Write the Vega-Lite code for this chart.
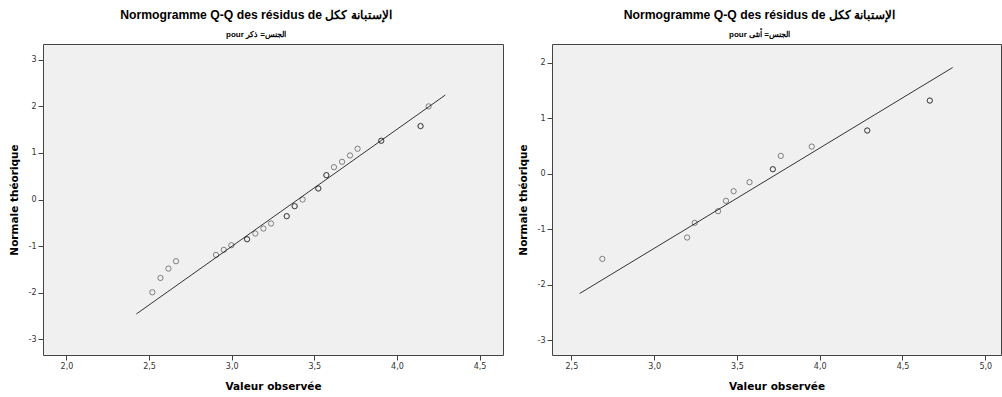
{
  "$schema": "https://vega.github.io/schema/vega-lite/v6.json",
  "background": "white",
  "padding": {"left": 8, "top": 8, "right": 0, "bottom": 0},
  "spacing": 13,
  "datasets": {
    "homme": [
      {"obs": 2.520, "theo": -1.993},
      {"obs": 2.569, "theo": -1.685},
      {"obs": 2.617, "theo": -1.484},
      {"obs": 2.663, "theo": -1.326},
      {"obs": 2.905, "theo": -1.190},
      {"obs": 2.952, "theo": -1.082},
      {"obs": 2.998, "theo": -0.982},
      {"obs": 3.093, "theo": -0.853},
      {"obs": 3.093, "theo": -0.853},
      {"obs": 3.143, "theo": -0.731},
      {"obs": 3.192, "theo": -0.624},
      {"obs": 3.238, "theo": -0.516},
      {"obs": 3.333, "theo": -0.358},
      {"obs": 3.333, "theo": -0.358},
      {"obs": 3.381, "theo": -0.143},
      {"obs": 3.381, "theo": -0.143},
      {"obs": 3.429, "theo": 0.000},
      {"obs": 3.524, "theo": 0.237},
      {"obs": 3.524, "theo": 0.237},
      {"obs": 3.573, "theo": 0.523},
      {"obs": 3.573, "theo": 0.523},
      {"obs": 3.619, "theo": 0.695},
      {"obs": 3.668, "theo": 0.810},
      {"obs": 3.716, "theo": 0.946},
      {"obs": 3.762, "theo": 1.090},
      {"obs": 3.905, "theo": 1.262},
      {"obs": 3.905, "theo": 1.262},
      {"obs": 4.143, "theo": 1.577},
      {"obs": 4.143, "theo": 1.577},
      {"obs": 4.192, "theo": 2.000}
    ],
    "homme_ligne": [
      {"obs": 2.423, "theo": -2.459},
      {"obs": 4.293, "theo": 2.244}
    ],
    "femme": [
      {"obs": 2.687, "theo": -1.538},
      {"obs": 3.199, "theo": -1.153},
      {"obs": 3.245, "theo": -0.889},
      {"obs": 3.386, "theo": -0.679},
      {"obs": 3.434, "theo": -0.492},
      {"obs": 3.480, "theo": -0.318},
      {"obs": 3.576, "theo": -0.156},
      {"obs": 3.717, "theo": 0.078},
      {"obs": 3.717, "theo": 0.078},
      {"obs": 3.765, "theo": 0.318},
      {"obs": 3.952, "theo": 0.486},
      {"obs": 4.287, "theo": 0.775},
      {"obs": 4.287, "theo": 0.775},
      {"obs": 4.665, "theo": 1.315},
      {"obs": 4.665, "theo": 1.315}
    ],
    "femme_ligne": [
      {"obs": 2.550, "theo": -2.162},
      {"obs": 4.803, "theo": 1.910}
    ]
  },
  "config": {
    "view": {"fill": "#F0F0F0", "stroke": "#444444", "strokeWidth": 1},
    "axis": {
      "grid": false,
      "domain": false,
      "tickColor": "#444444",
      "tickSize": 5,
      "labelFont": "DejaVu Sans",
      "labelFontSize": 8,
      "labelColor": "#333333",
      "labelPadding": 2,
      "titleFont": "DejaVu Sans",
      "titleFontSize": 10.5,
      "titleFontWeight": "bold",
      "titleColor": "#000000"
    },
    "title": {
      "font": "Liberation Sans",
      "fontSize": 12.2,
      "fontWeight": "bold",
      "color": "#000000",
      "subtitleFont": "Liberation Sans",
      "subtitleFontSize": 8,
      "subtitleFontWeight": "bold",
      "subtitleColor": "#000000",
      "subtitlePadding": 10,
      "anchor": "middle",
      "frame": "bounds"
    }
  },
  "hconcat": [
    {
      "width": 460,
      "height": 311,
      "title": {"text": "Normogramme Q-Q des résidus de الإستبانة ككل", "subtitle": "pour الجنس= ذكر", "offset": 5},
      "layer": [
        {
          "data": {"name": "homme_ligne"},
          "mark": {"type": "line", "color": "#333333", "strokeWidth": 1},
          "encoding": {
            "x": {"field": "obs", "type": "quantitative", "scale": {"domain": [1.858, 4.642], "nice": false, "zero": false},
              "axis": {"title": "Valeur observée", "values": [2, 2.5, 3, 3.5, 4, 4.5], "labelExpr": "replace(format(datum.value, '.1f'), '.', ',')", "titlePadding": 11}},
            "y": {"field": "theo", "type": "quantitative", "scale": {"domain": [-3.34, 3.34], "nice": false, "zero": false},
              "axis": {"title": "Normale théorique", "values": [-3, -2, -1, 0, 1, 2, 3], "labelExpr": "'' + datum.value", "titlePadding": 9}}
          }
        },
        {
          "data": {"name": "homme"},
          "mark": {"type": "point", "shape": "circle", "filled": false, "stroke": "#000000", "strokeOpacity": 0.65, "strokeWidth": 1, "size": 28},
          "encoding": {
            "x": {"field": "obs", "type": "quantitative"},
            "y": {"field": "theo", "type": "quantitative"}
          }
        }
      ]
    },
    {
      "width": 449,
      "height": 311,
      "title": {"text": "Normogramme Q-Q des résidus de الإستبانة ككل", "subtitle": "pour الجنس= أنثى", "offset": 5},
      "layer": [
        {
          "data": {"name": "femme_ligne"},
          "mark": {"type": "line", "color": "#333333", "strokeWidth": 1},
          "encoding": {
            "x": {"field": "obs", "type": "quantitative", "scale": {"domain": [2.383, 5.095], "nice": false, "zero": false},
              "axis": {"title": "Valeur observée", "values": [2.5, 3, 3.5, 4, 4.5, 5], "labelExpr": "replace(format(datum.value, '.1f'), '.', ',')", "titlePadding": 11}},
            "y": {"field": "theo", "type": "quantitative", "scale": {"domain": [-3.27, 2.334], "nice": false, "zero": false},
              "axis": {"title": "Normale théorique", "values": [-3, -2, -1, 0, 1, 2], "labelExpr": "'' + datum.value", "titlePadding": 9}}
          }
        },
        {
          "data": {"name": "femme"},
          "mark": {"type": "point", "shape": "circle", "filled": false, "stroke": "#000000", "strokeOpacity": 0.65, "strokeWidth": 1, "size": 28},
          "encoding": {
            "x": {"field": "obs", "type": "quantitative"},
            "y": {"field": "theo", "type": "quantitative"}
          }
        }
      ]
    }
  ]
}
